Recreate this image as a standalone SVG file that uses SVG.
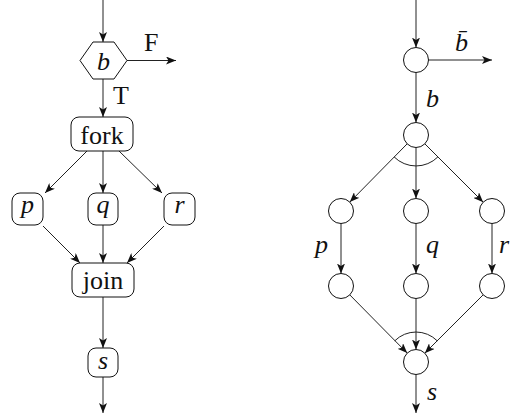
<svg xmlns="http://www.w3.org/2000/svg" width="511" height="418" viewBox="0 0 511 418">
  <defs>
    <marker id="arrow" viewBox="0 0 10 8" refX="10" refY="4" markerWidth="10" markerHeight="8" markerUnits="userSpaceOnUse" orient="auto">
      <path d="M0,0 L10,4 L0,8 L2.5,4 z" fill="#111"/>
    </marker>
  </defs>
  <style>
    .edge { stroke: #222; stroke-width: 1; fill: none; marker-end: url(#arrow); }
    .arc { stroke: #222; stroke-width: 1; fill: none; }
    .box { fill: #fff; stroke: #111; stroke-width: 1; }
    .txt { font-family: "Liberation Serif", "DejaVu Serif", serif; font-size: 26px; fill: #111; text-anchor: middle; }
    .math { font-style: italic; }
    .lbl { font-family: "Liberation Serif", "DejaVu Serif", serif; font-size: 26px; fill: #111; }
  </style>

  <!-- Flowchart: condition, fork/join of p, q, r, then s -->
  <g id="connectors-left">
    <line class="edge" x1="103" y1="0" x2="103" y2="42"/>
    <line class="edge" x1="127" y1="60.5" x2="176" y2="60.5"/>
    <line class="edge" x1="103" y1="79" x2="103" y2="117"/>
    <line class="edge" x1="87" y1="151" x2="45" y2="193"/>
    <line class="edge" x1="103" y1="151" x2="103" y2="193"/>
    <line class="edge" x1="119" y1="151" x2="162" y2="193"/>
    <line class="edge" x1="43" y1="226" x2="80" y2="263"/>
    <line class="edge" x1="103" y1="225" x2="103" y2="263"/>
    <line class="edge" x1="164" y1="226" x2="127" y2="263"/>
    <line class="edge" x1="103" y1="297" x2="103" y2="348"/>
    <line class="edge" x1="103" y1="377" x2="103" y2="413"/>
    <text class="lbl" x="144" y="51">F</text>
    <text class="lbl" x="113" y="104">T</text>
  </g>

  <g id="cond">
    <polygon class="box" points="80,60.5 93,42 114,42 127,60.5 114,79 93,79"/>
    <text class="txt math" x="103.5" y="70">b</text>
  </g>
  <g id="fork">
    <rect class="box" x="71" y="117" width="62" height="34" rx="8"/>
    <text class="txt" x="102" y="144">fork</text>
  </g>
  <g id="p">
    <rect class="box" x="12" y="193" width="31" height="32" rx="8"/>
    <text class="txt math" x="27.5" y="213">p</text>
  </g>
  <g id="q">
    <rect class="box" x="88" y="193" width="30" height="32" rx="8"/>
    <text class="txt math" x="103" y="213">q</text>
  </g>
  <g id="r">
    <rect class="box" x="164" y="193" width="31" height="32" rx="8"/>
    <text class="txt math" x="179.5" y="213">r</text>
  </g>
  <g id="join">
    <rect class="box" x="72" y="263" width="62" height="34" rx="8"/>
    <text class="txt" x="103" y="289">join</text>
  </g>
  <g id="s">
    <rect class="box" x="88" y="348" width="30" height="29" rx="8"/>
    <text class="txt math" x="103" y="369">s</text>
  </g>

  <!-- State graph: branch on b, parallel split and synchronising merge -->
  <g id="connectors-right">
    <line class="edge" x1="416" y1="0" x2="416" y2="47.5"/>
    <line class="edge" x1="428.5" y1="60" x2="492" y2="60"/>
    <line class="edge" x1="416" y1="72.5" x2="416" y2="122.5"/>
    <line class="edge" x1="407.2" y1="143.8" x2="349.8" y2="202.1"/>
    <line class="edge" x1="416" y1="147.5" x2="416" y2="198.5"/>
    <line class="edge" x1="424.8" y1="143.8" x2="483.2" y2="202.2"/>
    <line class="edge" x1="341" y1="223.5" x2="341" y2="273.5"/>
    <line class="edge" x1="416" y1="223.5" x2="416" y2="273.5"/>
    <line class="edge" x1="492" y1="223.5" x2="492" y2="273.5"/>
    <line class="edge" x1="349.8" y1="294.9" x2="407.2" y2="353.1"/>
    <line class="edge" x1="416" y1="298.5" x2="416" y2="349.5"/>
    <line class="edge" x1="483.2" y1="294.8" x2="424.8" y2="353.2"/>
    <line class="edge" x1="416" y1="374.5" x2="416" y2="413"/>
    <path class="arc" d="M394.1,156.9 A31,31 0 0 0 437.9,156.9"/>
    <path class="arc" d="M394.8,340.8 A30,30 0 0 1 437.2,340.8"/>
    <text class="lbl math" x="455" y="51">b̄</text>
    <text class="lbl math" x="426" y="107">b</text>
    <text class="lbl math" x="315" y="253">p</text>
    <text class="lbl math" x="426" y="253">q</text>
    <text class="lbl math" x="499" y="253">r</text>
    <text class="lbl math" x="427" y="400">s</text>
  </g>

  <g id="c1"><circle class="box" cx="416" cy="60" r="12.5"/></g>
  <g id="c2"><circle class="box" cx="416" cy="135" r="12.5"/></g>
  <g id="p1"><circle class="box" cx="341" cy="211" r="12.5"/></g>
  <g id="q1"><circle class="box" cx="416" cy="211" r="12.5"/></g>
  <g id="r1"><circle class="box" cx="492" cy="211" r="12.5"/></g>
  <g id="p2"><circle class="box" cx="341" cy="286" r="12.5"/></g>
  <g id="q2"><circle class="box" cx="416" cy="286" r="12.5"/></g>
  <g id="r2"><circle class="box" cx="492" cy="286" r="12.5"/></g>
  <g id="c3"><circle class="box" cx="416" cy="362" r="12.5"/></g>
</svg>
